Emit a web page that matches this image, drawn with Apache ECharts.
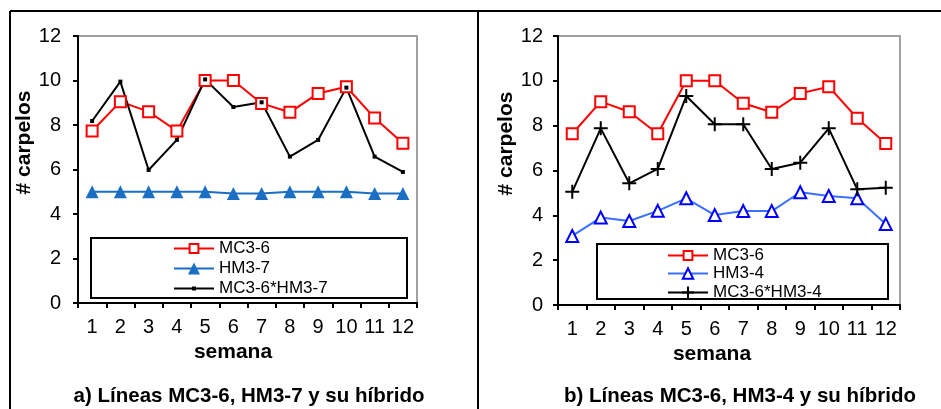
<!DOCTYPE html>
<html>
<head>
<meta charset="utf-8">
<title>carpelos por semana</title>
<script src="https://cdn.jsdelivr.net/npm/echarts@6/dist/echarts.min.js"></script>
<style>
  html, body { margin: 0; padding: 0; background: #fff; }
  #chart { width: 941px; height: 409px; }
</style>
</head>
<body>
<div id="chart"></div>
<script>
// semanas (eje x)
const weeks = ["1", "2", "3", "4", "5", "6", "7", "8", "9", "10", "11", "12"];

// panel a
const mc36A = [7.73, 9.05, 8.6, 7.73, 10.0, 10.0, 8.97, 8.57, 9.42, 9.72, 8.31, 7.18];
const hm37 = [5.0, 5.0, 5.0, 5.0, 5.0, 4.92, 4.92, 5.0, 5.0, 5.0, 4.92, 4.92];
const hybridA = [8.18, 9.95, 5.98, 7.33, 10.05, 8.81, 9.02, 6.58, 7.33, 9.68, 6.58, 5.89];

// panel b
const mc36B = [7.64, 9.07, 8.62, 7.64, 10.0, 10.0, 9.0, 8.6, 9.44, 9.74, 8.33, 7.21];
const hm34 = [3.08, 3.9, 3.75, 4.2, 4.76, 4.01, 4.19, 4.19, 5.03, 4.86, 4.76, 3.61];
const hybridB = [5.05, 7.88, 5.43, 6.07, 9.32, 8.06, 8.06, 6.07, 6.35, 7.88, 5.16, 5.23];

const namesA = ["MC3-6", "HM3-7", "MC3-6*HM3-7"];
const namesB = ["MC3-6", "HM3-4", "MC3-6*HM3-4"];
const titles = ["a) Líneas MC3-6, HM3-7 y su híbrido", "b) Líneas MC3-6, HM3-4 y su híbrido"];

const FONT = "Liberation Sans, Arial, sans-serif";
const plusPath = "path://M0,-10 L0,10 M-10,0 L10,0";

const chart = echarts.init(document.getElementById("chart"), null, { renderer: "canvas" });

const xAxisBase = (gridIndex, nameShift) => ({
  type: "category",
  gridIndex,
  data: weeks,
  boundaryGap: true,
  name: "semana",
  nameLocation: "middle",
  nameGap: 38,
  nameTextStyle: { fontFamily: FONT, fontSize: 21, fontWeight: "bold", color: "#000", padding: [0, nameShift, 0, 0] },
  axisLine: { show: true, lineStyle: { color: "#000", width: 2 } },
  axisTick: { show: true, inside: false, length: 5, lineStyle: { color: "#000", width: 2 } },
  axisLabel: { fontFamily: FONT, fontSize: 20, color: "#000", margin: 14, interval: 0 },
  splitLine: { show: false },
});

const yAxisBase = (gridIndex, gap, margin) => ({
  type: "value",
  gridIndex,
  min: 0,
  max: 12,
  interval: 2,
  name: "# carpelos",
  nameLocation: "middle",
  nameGap: gap,
  nameTextStyle: { fontFamily: FONT, fontSize: 21, fontWeight: "bold", color: "#000", padding: [0, 0, 0, 54] },
  axisLine: { show: true, lineStyle: { color: "#000", width: 2 } },
  axisTick: { show: true, inside: false, length: 5, lineStyle: { color: "#000", width: 2 } },
  axisLabel: { fontFamily: FONT, fontSize: 20, color: "#000", margin: margin },
  splitLine: { show: false },
});

// one legend per row so each row can have its own symbol size
const legendRow = (name, left, top, iconH) => ({
  data: [name],
  orient: "vertical",
  left,
  top,
  padding: 0,
  itemWidth: 40,
  itemHeight: iconH,
  selectedMode: false,
  textStyle: { fontFamily: FONT, fontSize: 17, color: "#000" },
});

const option = {
  backgroundColor: "#fff",
  animation: false,
  title: [
    { text: titles[0], left: 244, top: 381, textAlign: "center",
      textStyle: { fontFamily: FONT, fontSize: 20.5, fontWeight: "bold", color: "#000" } },
    { text: titles[1], left: 735, top: 381, textAlign: "center",
      textStyle: { fontFamily: FONT, fontSize: 20.5, fontWeight: "bold", color: "#000" } },
  ],
  grid: [
    { left: 78, right: 524, top: 36, bottom: 106, show: true, borderColor: "#a0a0a0", borderWidth: 2, backgroundColor: "transparent" },
    { left: 558, right: 41, top: 36, bottom: 104, show: true, borderColor: "#a0a0a0", borderWidth: 2, backgroundColor: "transparent" },
  ],
  xAxis: [xAxisBase(0, 29), xAxisBase(1, 34)],
  yAxis: [yAxisBase(0, 36, 17), yAxisBase(1, 35, 15)],
  legend: [
    legendRow(namesA[0], 173, 240, 11),
    legendRow(namesA[1], 173, 260, 15),
    legendRow(namesA[2], 173, 280, 5),
    legendRow(namesB[0], 667, 247, 11),
    legendRow(namesB[1], 667, 265, 13),
    legendRow(namesB[2], 667, 284, 15),
  ],
  graphic: [
    // marco exterior y division entre paneles
    { type: "line", shape: { x1: 10, y1: 11, x2: 941, y2: 11 }, style: { stroke: "#000", lineWidth: 2 } },
    { type: "line", shape: { x1: 10, y1: 11, x2: 10, y2: 409 }, style: { stroke: "#000", lineWidth: 2 } },
    { type: "line", shape: { x1: 478, y1: 11, x2: 478, y2: 409 }, style: { stroke: "#000", lineWidth: 2 } },
    // cajas de leyenda
    { type: "rect", z: 1, shape: { x: 91, y: 238, width: 316, height: 60 }, style: { fill: "#fff", stroke: "#000", lineWidth: 2 } },
    { type: "rect", z: 1, shape: { x: 597, y: 244, width: 291, height: 55 }, style: { fill: "#fff", stroke: "#000", lineWidth: 2 } },
  ],
  series: [
    {
      name: namesA[0], type: "line", xAxisIndex: 0, yAxisIndex: 0, data: mc36A, z: 3,
      symbol: "rect", symbolSize: 11,
      lineStyle: { color: "#ff0000", width: 2 },
      itemStyle: { color: "#fff", borderColor: "#ff0000", borderWidth: 2 },
    },
    {
      name: namesA[1], type: "line", xAxisIndex: 0, yAxisIndex: 0, data: hm37, z: 3,
      symbol: "triangle", symbolSize: 13,
      lineStyle: { color: "#1a6fc4", width: 2 },
      itemStyle: { color: "#1a6fc4" },
    },
    {
      name: namesA[2], type: "line", xAxisIndex: 0, yAxisIndex: 0, data: hybridA, z: 3,
      symbol: "rect", symbolSize: 4,
      lineStyle: { color: "#000", width: 2 },
      itemStyle: { color: "#000" },
    },
    {
      name: namesB[0], type: "line", xAxisIndex: 1, yAxisIndex: 1, data: mc36B, z: 3,
      symbol: "rect", symbolSize: 11,
      lineStyle: { color: "#ff0000", width: 2 },
      itemStyle: { color: "#fff", borderColor: "#ff0000", borderWidth: 2 },
    },
    {
      name: namesB[1], type: "line", xAxisIndex: 1, yAxisIndex: 1, data: hm34, z: 3,
      symbol: "triangle", symbolSize: 12,
      lineStyle: { color: "#3a6fff", width: 2 },
      itemStyle: { color: "#fff", borderColor: "#0000ff", borderWidth: 2 },
    },
    {
      name: namesB[2], type: "line", xAxisIndex: 1, yAxisIndex: 1, data: hybridB, z: 3,
      symbol: plusPath, symbolSize: 14,
      lineStyle: { color: "#000", width: 2 },
      itemStyle: { color: "#000", borderColor: "#000", borderWidth: 2 },
    },
  ],
};

chart.setOption(option);
</script>
</body>
</html>
